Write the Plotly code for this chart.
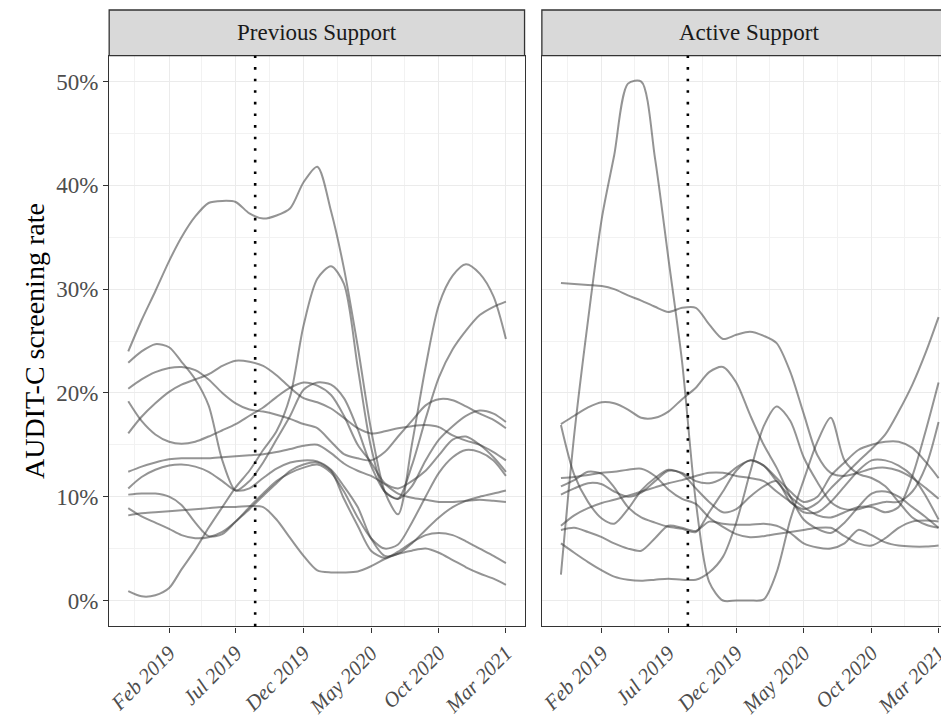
import plotly.graph_objects as go

# ---------------- data ----------------
months = ["2018-11-01", "2018-12-01", "2019-01-01", "2019-02-01", "2019-03-01", "2019-04-01",
          "2019-05-01", "2019-06-01", "2019-07-01", "2019-08-01", "2019-09-01", "2019-10-01",
          "2019-11-01", "2019-12-01", "2020-01-01", "2020-02-01", "2020-03-01", "2020-04-01",
          "2020-05-01", "2020-06-01", "2020-07-01", "2020-08-01", "2020-09-01", "2020-10-01",
          "2020-11-01", "2020-12-01", "2021-01-01", "2021-02-01", "2021-03-01"]

panel_titles = ["Previous Support", "Active Support"]
intervention_date = "2019-08-14"

# Previous Support sites (screening rate, %)
prev_1 = [24.0, 27.0, 29.8, 32.7, 35.0, 37.0, 38.3, 38.5, 38.4, 37.3, 36.8, 37.1, 37.8, 40.3, 41.8, 37.5, 32.0, 24.5, 16.5, 10.5, 8.3, 15.0, 22.5, 28.5, 31.3, 32.4, 31.5, 29.3, 25.2]
prev_2 = [0.9, 0.4, 0.5, 1.2, 3.0, 4.9, 7.0, 9.0, 10.9, 12.5, 14.5, 16.3, 19.7, 26.5, 31.0, 32.2, 30.5, 22.5, 14.8, 10.5, 9.8, 13.0, 17.5, 21.5, 24.2, 26.0, 27.5, 28.3, 28.8]
prev_3 = [22.9, 24.0, 24.7, 24.4, 23.0, 21.3, 18.8, 13.5, 10.6, 11.5, 13.3, 15.5, 17.8, 20.3, 21.0, 20.8, 19.5, 16.5, 13.0, 10.5, 9.8, 11.0, 13.5, 15.5, 16.8, 17.8, 18.3, 18.0, 17.2]
prev_4 = [20.4, 21.3, 22.0, 22.4, 22.5, 22.2, 21.3, 20.0, 19.0, 18.4, 18.2, 17.9, 17.5, 17.0, 16.6, 15.3, 14.1, 13.7, 13.5, 14.3, 15.8, 17.3, 18.8, 19.4, 19.3, 18.7, 18.0, 17.4, 16.6]
prev_5 = [16.1, 17.7, 19.0, 20.1, 20.8, 21.3, 21.8, 22.6, 23.1, 23.0, 22.6, 21.7, 20.5, 19.5, 19.1, 18.5, 17.6, 16.6, 16.1, 16.3, 16.6, 16.8, 16.9, 16.7, 15.9, 15.4, 15.0, 14.3, 13.5]
prev_6 = [19.2, 17.3, 16.0, 15.3, 15.1, 15.3, 15.8, 16.4, 17.0, 17.8, 18.6, 19.6, 20.5, 21.0, 20.7, 19.8, 17.8, 15.0, 13.3, 11.3, 10.8, 11.5, 12.5, 14.0, 15.5, 15.8, 15.0, 13.8, 12.4]
prev_7 = [12.4, 12.9, 13.3, 13.6, 13.7, 13.7, 13.7, 13.8, 13.9, 14.0, 14.1, 14.3, 14.6, 14.9, 15.0, 14.2, 13.2, 12.5, 12.0, 11.2, 10.3, 9.9, 9.7, 9.5, 9.5, 9.6, 9.7, 9.6, 9.5]
prev_8 = [10.8, 11.9, 12.6, 13.0, 13.1, 12.9, 12.4, 11.5, 10.6, 10.8, 11.8, 12.7, 13.3, 13.5, 13.4, 12.6, 11.0, 9.0, 6.0, 4.3, 4.5, 5.5, 6.8, 8.0, 9.0, 9.6, 10.0, 10.3, 10.6]
prev_9 = [10.2, 10.3, 10.3, 10.0, 9.2, 7.5, 6.2, 6.4, 7.6, 8.8, 10.1, 11.3, 12.5, 13.1, 13.3, 12.5, 9.8, 7.2, 4.8, 4.1, 4.7, 5.6, 6.3, 6.5, 6.3, 5.7, 5.0, 4.3, 3.6]
prev_10 = [8.9, 8.1, 7.5, 6.9, 6.3, 6.0, 6.1, 6.6, 7.6, 9.0, 10.3, 11.5, 12.3, 12.8, 13.1, 12.3, 10.5, 8.0, 6.0, 5.0, 5.4, 7.5, 10.0, 12.3, 13.8, 14.5, 14.3, 13.5, 12.0]
prev_11 = [8.2, 8.4, 8.5, 8.6, 8.7, 8.8, 8.9, 9.0, 9.0, 9.1, 9.0, 7.8, 6.0, 4.3, 2.9, 2.7, 2.7, 2.8, 3.3, 4.0, 4.5, 4.8, 5.0, 4.6, 3.9, 3.2, 2.6, 2.1, 1.5]

# Active Support sites (screening rate, %)
act_1 = [30.6, 30.5, 30.4, 30.3, 30.0, 29.4, 28.9, 28.3, 27.8, 28.2, 28.2, 26.6, 25.2, 25.6, 25.9, 25.5, 24.8, 22.0, 18.0, 14.0, 12.3, 12.0, 12.3, 12.7, 12.8, 12.5, 11.8, 10.8, 9.8]
act_2 = [2.5, 16.0, 27.0, 36.8, 42.9, 49.8, 50.0, 42.6, 33.0, 23.0, 9.5, 1.8, 0.0, 0.0, 0.0, 0.1, 2.7, 7.8, 11.6, 15.3, 17.6, 13.5, 12.2, 11.8, 11.0, 9.5, 8.0, 7.3, 7.0]
act_3 = [17.0, 17.8, 18.6, 19.1, 19.0, 18.4, 17.6, 17.6, 18.2, 19.4, 20.5, 22.0, 22.5, 21.0, 17.9, 15.0, 12.8, 10.0, 7.8, 6.9, 6.5, 7.5, 9.0, 10.3, 10.5, 10.0, 9.0, 8.0, 7.0]
act_4 = [16.9, 12.1, 9.5, 7.9, 7.4, 8.8, 10.6, 11.8, 12.6, 12.2, 10.8, 9.5, 8.5, 8.8, 10.0, 11.0, 11.5, 9.5, 8.8, 9.4, 10.8, 12.1, 13.4, 14.6, 16.0, 18.2, 20.8, 24.0, 27.3]
act_5 = [11.8, 11.9, 12.1, 12.3, 12.4, 12.6, 12.7, 12.0, 10.7, 9.8, 9.3, 8.0, 7.1, 6.4, 6.1, 6.2, 6.4, 6.6, 6.8, 7.0, 7.0, 6.2, 5.5, 5.3, 6.0, 7.0, 7.6, 7.7, 7.6]
act_6 = [11.0, 11.6, 12.4, 12.2, 10.9, 9.0, 8.0, 7.5, 7.1, 6.9, 6.6, 8.5, 10.5, 12.5, 13.5, 13.0, 11.8, 10.5, 9.5, 10.0, 12.0, 13.3, 14.5, 15.0, 15.3, 15.3, 14.7, 13.3, 11.8]
act_7 = [10.2, 10.8, 11.3, 11.2, 10.5, 10.0, 10.4, 11.5, 12.5, 12.3, 11.5, 11.3, 11.8, 12.8, 13.5, 13.0, 11.5, 10.0, 9.0, 8.2, 8.0, 8.5, 9.0, 9.0, 8.5, 9.0, 12.0, 16.5, 21.0]
act_8 = [7.2, 8.2, 8.9, 9.4, 9.7, 10.1, 10.5, 10.9, 11.3, 11.6, 12.0, 12.3, 12.3, 12.0, 11.8, 11.5, 10.5, 9.5, 8.5, 8.5, 9.5, 11.0, 12.5, 13.5, 13.5, 13.0, 12.0, 10.0, 7.8]
act_9 = [6.8, 7.0, 6.6, 6.1, 5.5, 5.0, 4.8, 6.0, 7.2, 7.0, 6.7, 7.6, 7.4, 7.3, 7.3, 7.4, 7.2, 6.5, 5.5, 5.1, 5.0, 5.5, 6.8, 6.3, 5.6, 5.3, 5.2, 5.2, 5.3]
act_10 = [5.5, 4.6, 3.7, 2.9, 2.3, 2.0, 1.9, 2.0, 2.1, 2.0, 2.0, 2.7, 4.2, 7.5, 12.3, 16.8, 18.7, 17.3, 13.8, 11.4, 9.5, 8.8, 8.8, 9.2, 9.5, 9.5, 10.5, 13.0, 17.2]

prev_sites = [prev_1, prev_2, prev_3, prev_4, prev_5, prev_6, prev_7, prev_8, prev_9, prev_10, prev_11]
act_sites = [act_1, act_2, act_3, act_4, act_5, act_6, act_7, act_8, act_9, act_10]

x_tickvals = ["2019-02-01", "2019-07-01", "2019-12-01", "2020-05-01", "2020-10-01", "2021-03-01"]
x_ticktext = ["Feb 2019", "Jul 2019", "Dec 2019", "May 2020", "Oct 2020", "Mar 2021"]
x_minorvals = ["2018-11-16", "2019-04-16", "2019-09-15", "2020-02-15", "2020-07-16", "2020-12-15"]
y_tickvals = [0, 10, 20, 30, 40, 50]
y_ticktext = ["0%", "10%", "20%", "30%", "40%", "50%"]
y_minorvals = [5, 15, 25, 35, 45]

# ---------------- styling ----------------
OFF = 8  # page body margin
W, H = 949 - OFF, 719 - OFF
FONT = "Liberation Serif, Times New Roman, serif"
LINE_COLOR = "rgba(60,60,60,0.55)"
GRID = "#EBEBEB"
MINOR_GRID = "#F2F2F2"
BORDER = "#333333"

def fx(p):
    return (p - OFF) / W

def fy(p):
    return 1 - (p - OFF) / H

panel_top, panel_bot = 55.7, 627.3
left_l, left_r = 106.7, 524.3
right_l, right_r = 541.7, 959.3
strip_top = 10.0

fig = go.Figure()
for vals in prev_sites:
    fig.add_trace(go.Scatter(x=months, y=vals, xaxis="x", yaxis="y", mode="lines",
                             line=dict(color=LINE_COLOR, width=2, shape="spline", smoothing=0.8),
                             hoverinfo="skip", showlegend=False))
for vals in act_sites:
    fig.add_trace(go.Scatter(x=months, y=vals, xaxis="x2", yaxis="y2", mode="lines",
                             line=dict(color=LINE_COLOR, width=2, shape="spline", smoothing=0.8),
                             hoverinfo="skip", showlegend=False))

xcommon = dict(type="date", tickmode="array", tickvals=x_tickvals, ticktext=x_ticktext,
               tickangle=-45, ticks="outside", ticklen=5, tickwidth=1.2, tickcolor=BORDER,
               tickfont=dict(family=FONT, size=21, color="#4D4D4D", style="italic"),
               ticklabeloverflow="allow",
               showline=True, linecolor=BORDER, linewidth=1.3, mirror=True,
               showgrid=True, gridcolor=GRID, gridwidth=1.2, zeroline=False,
               minor=dict(tickmode="array", tickvals=x_minorvals, showgrid=True,
                          gridcolor=MINOR_GRID, gridwidth=0.7, ticks=""))
ycommon = dict(range=[-2.5, 52.5], showgrid=True, gridcolor=GRID, gridwidth=1.2, zeroline=False,
               tickmode="array", tickvals=y_tickvals, ticktext=y_ticktext,
               showline=True, linecolor=BORDER, linewidth=1.3,
               minor=dict(tickmode="array", tickvals=y_minorvals, showgrid=True,
                          gridcolor=MINOR_GRID, gridwidth=0.7, ticks=""))

fig.update_layout(
    width=W, height=H,
    margin=dict(l=0, r=0, t=0, b=0),
    paper_bgcolor="white", plot_bgcolor="white",
    font=dict(family=FONT),
    xaxis=dict(domain=[fx(left_l), fx(left_r)], range=["2018-09-19", "2021-04-12"], anchor="y", **xcommon),
    xaxis2=dict(domain=[fx(right_l), 1.0], range=["2018-09-19", "2021-03-20"], anchor="y2", **xcommon),
    yaxis=dict(domain=[fy(panel_bot), fy(panel_top)], anchor="x", mirror=True,
               ticks="outside", ticklen=5, tickwidth=1.2, tickcolor=BORDER,
               tickfont=dict(family=FONT, size=23, color="#4D4D4D"), **ycommon),
    yaxis2=dict(domain=[fy(panel_bot), fy(panel_top)], anchor="x2", mirror=False,
                showticklabels=False, ticks="", **ycommon),
)

shapes = []
for (l, r) in [(left_l, left_r), (right_l, right_r)]:
    shapes.append(dict(type="rect", xref="paper", yref="paper",
                       x0=fx(l), x1=fx(r), y0=fy(panel_top), y1=fy(strip_top),
                       fillcolor="#D9D9D9", line=dict(color=BORDER, width=1.3)))
for xr, yr in [("x", "y domain"), ("x2", "y2 domain")]:
    shapes.append(dict(type="line", xref=xr, yref=yr, x0=intervention_date, x1=intervention_date,
                       y0=0, y1=1, line=dict(color="black", width=2.6, dash="2.6px,9px")))
fig.update_layout(shapes=shapes)

annotations = []
for title, (l, r) in zip(panel_titles, [(left_l, left_r), (right_l, right_r)]):
    annotations.append(dict(text=title, xref="paper", yref="paper",
                            x=fx((l + r) / 2), y=fy((strip_top + panel_top) / 2),
                            showarrow=False, xanchor="center", yanchor="middle",
                            font=dict(family=FONT, size=23, color="#1A1A1A")))
annotations.append(dict(text="AUDIT-C screening rate", xref="paper", yref="paper",
                        x=fx(31), y=fy((panel_top + panel_bot) / 2), textangle=-90,
                        showarrow=False, xanchor="center", yanchor="middle",
                        font=dict(family=FONT, size=28, color="black")))
fig.update_layout(annotations=annotations)

fig.write_html("out.html")
